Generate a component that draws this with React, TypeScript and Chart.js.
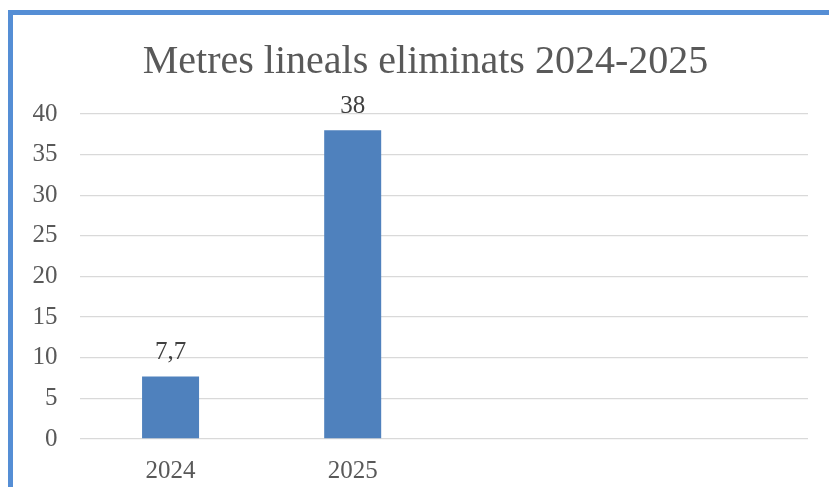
import React, { useEffect, useRef } from "react";
import { Chart, registerables } from "chart.js";

Chart.register(...registerables);

const titleText = "Metres lineals eliminats 2024-2025";
const categories = ["2024", "2025", "", ""];
const values = [7.7, 38, null, null];
const valueLabels = ["7,7", "38", "", ""];
const yMin = 0;
const yMax = 40;
const yStep = 5;

const FONT = "'Liberation Serif', 'DejaVu Serif', serif";

const barLabelPlugin = {
  id: "barLabels",
  afterDatasetsDraw(chart: any) {
    const ctx = chart.ctx;
    const meta = chart.getDatasetMeta(0);
    ctx.save();
    ctx.font = `25px ${FONT}`;
    ctx.fillStyle = "#404040";
    ctx.textAlign = "center";
    ctx.textBaseline = "alphabetic";
    meta.data.forEach((bar: any, i: number) => {
      const v = values[i];
      if (v === null || v === undefined) return;
      ctx.fillText(valueLabels[i], bar.x, bar.y - 17);
    });
    ctx.restore();
  },
};

export default function App() {
  const ref = useRef<HTMLCanvasElement | null>(null);

  useEffect(() => {
    if (!ref.current) return;
    const chart = new Chart(ref.current, {
      type: "bar",
      data: {
        labels: categories,
        datasets: [
          {
            data: values,
            backgroundColor: "#4f81bd",
            borderWidth: 0,
            categoryPercentage: 1,
            barPercentage: 0.313,
          },
        ],
      },
      options: {
        animation: false,
        responsive: false,
        maintainAspectRatio: false,
        layout: { padding: { left: 14, right: 0, top: 38, bottom: 0 } },
        plugins: {
          legend: { display: false },
          tooltip: { enabled: false },
          title: {
            display: true,
            text: titleText,
            color: "#595959",
            font: { family: FONT, size: 40, weight: "normal" },
            padding: { top: 0, bottom: 28 },
          },
        },
        scales: {
          x: {
            grid: { display: false, drawTicks: false },
            border: { display: false },
            ticks: {
              color: "#595959",
              font: { family: FONT, size: 25 },
              padding: 17,
              maxRotation: 0,
            },
            afterFit(scale: any) {
              scale.height = 56;
            },
          },
          y: {
            min: yMin,
            max: yMax,
            grid: { color: "#d9d9d9", lineWidth: 1.3, drawTicks: false },
            border: { display: false },
            ticks: {
              stepSize: yStep,
              color: "#595959",
              font: { family: FONT, size: 25 },
              padding: 22,
            },
            afterFit(scale: any) {
              scale.width = 65.5;
            },
          },
          yRightSpace: {
            type: "linear",
            position: "right",
            display: true,
            grid: { display: false, drawTicks: false },
            border: { display: false },
            ticks: { display: false },
            afterFit(scale: any) {
              scale.width = 29;
            },
          },
        },
      },
      plugins: [barLabelPlugin],
    });
    return () => chart.destroy();
  }, []);

  return (
    <div style={{ position: "relative", width: 837, height: 495, margin: -8, background: "#fff" }}>
      <div
        style={{
          position: "absolute",
          left: 8,
          top: 10,
          width: 829,
          height: 485,
          borderTop: "5px solid #558ed5",
          borderLeft: "5px solid #558ed5",
          borderRight: "1px solid #d0d0d0",
          boxSizing: "border-box",
        }}
      />
      <canvas ref={ref} width={837} height={495} style={{ position: "absolute", left: 0, top: 0 }} />
    </div>
  );
}
